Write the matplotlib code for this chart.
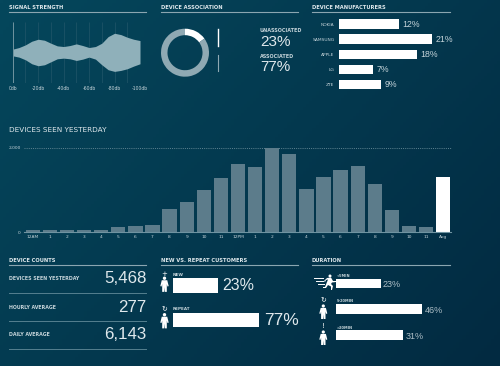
import matplotlib
matplotlib.use("Agg")
import matplotlib.pyplot as plt
import numpy as np
from matplotlib.patches import Circle, Polygon

W, H = 500, 366
FONT = "Liberation Sans"
WHITE = "#ffffff"
TEXT = "#dfe8ec"
RULE = "#8ba6b1"

signal_db = [0, 5, 10, 15, 20, 25, 30, 35, 40, 45, 50, 55, 60, 65, 70, 75, 80, 85, 90, 95, 100]
signal_upper = [10, 15, 23, 34, 40, 37, 28, 20, 18, 21, 26, 21, 15, 18, 28, 48, 58, 54, 46, 40, 36]
signal_lower = [10, 14, 22, 34, 40, 37, 28, 19, 17, 19, 24, 20, 14, 20, 37, 52, 57, 54, 49, 41, 34]
signal_ticks = [0, 20, 40, 60, 80, 100]
signal_labels = ["0db", "-20db", "-40db", "-60db", "-80db", "-100db"]

donut_shares = [15, 85]

makers = ["NOKIA", "SAMSUNG", "APPLE", "LG", "ZTE"]
maker_bars = [13.6, 21, 17.6, 7.7, 9.5]
maker_labels = ["12%", "21%", "18%", "7%", "9%"]

hours = ["12AM", "1", "2", "3", "4", "5", "6", "7", "8", "9", "10", "11",
         "12PM", "1", "2", "3", "4", "5", "6", "7", "8", "9", "10", "11", "Avg"]
hour_counts = [55, 55, 55, 55, 55, 118, 157, 165, 559, 724, 1008, 1291,
               1606, 1543, 2000, 1858, 1024, 1299, 1472, 1567, 1134, 528, 150, 118, 1299]

count_names = ["DEVICES SEEN YESTERDAY", "HOURLY AVERAGE", "DAILY AVERAGE"]
count_values = ["5,468", "277", "6,143"]

customer_bars = [23, 44.3]
customer_names = ["NEW", "REPEAT"]
customer_labels = ["23%", "77%"]

duration_bars = [23, 44.5, 34.7]
duration_names = ["<5MIN", "5-20MIN", ">20MIN"]
duration_labels = ["23%", "46%", "31%"]


def panel(fig, x0, y0, x1, y1):
    ax = fig.add_axes([x0 / W, 1 - y1 / H, (x1 - x0) / W, (y1 - y0) / H])
    ax.patch.set_alpha(0)
    for s in ax.spines.values():
        s.set_visible(False)
    ax.set_xticks([])
    ax.set_yticks([])
    return ax


def heading(ax, x0, x1, y, s):
    ax.text(x0, y - 4.5, s, fontsize=3.7, family="DejaVu Sans", weight="bold",
            color=TEXT, va="center", ha="left")
    ax.plot([x0, x1], [y, y], color=RULE, lw=0.8)


def small(ax, x, y, s, size=3.4, ha="left"):
    ax.text(x, y, s, fontsize=size, family="DejaVu Sans", weight="bold",
            color="#c4d3d9", va="center", ha=ha)


def big(ax, x, y, s, size, ha="left", color=TEXT):
    ax.text(x, y, s, fontsize=size, color=color, family=FONT, va="center", ha=ha)


def person(ax, x, y, s=1.0, color=WHITE):
    ax.add_patch(Circle((x, y - 5.5 * s), 1.6 * s, color=color, lw=0))
    body = [(-2.6, -3.6), (2.6, -3.6), (4, 2), (2.8, 2.4), (2.2, 0), (2.2, 7.5), (0.3, 7.5), (0, 3),
            (-0.3, 7.5), (-2.2, 7.5), (-2.2, 0), (-2.8, 2.4), (-4, 2)]
    ax.add_patch(Polygon([(x + a * s, y + b * s) for a, b in body], color=color, lw=0))


def runner(ax, x, y, color=WHITE):
    ax.add_patch(Circle((x + 3, y - 6), 1.5, color=color, lw=0))
    body = [(0, -4), (4, -4.5), (6, -1), (9, -1), (9, 0), (5, 0.5), (4, 2), (6, 4), (5, 8), (4, 8),
            (4, 4.5), (1, 3), (-1, 6), (-4, 6), (-4, 5), (-2, 5), (0, 0), (1, -2.5), (-1, -2), (-2, 0), (-3, -1)]
    ax.add_patch(Polygon([(x + a, y + b) for a, b in body], color=color, lw=0))
    for dy, x0, x1 in [(-4, -13, -4), (-1, -11, -4), (2, -9, -3)]:
        ax.plot([x + x0, x + x1], [y + dy, y + dy], color=color, lw=0.7)


fig = plt.figure(figsize=(W / 100, H / 100), dpi=100)

# background plus all loose text
bg = fig.add_axes([0, 0, 1, 1])
bg.set_xlim(0, W)
bg.set_ylim(H, 0)
bg.axis("off")
yy, xx = np.mgrid[0:1:120j, 0:1:160j]
t = 0.6 * xx + 0.4 * yy
c0, c1 = np.array([0x05, 0x47, 0x5c]) / 255, np.array([0x02, 0x2a, 0x41]) / 255
bg.imshow(c0 + (c1 - c0) * t[..., None], extent=(0, W, H, 0), aspect="auto", zorder=0)

for x0, x1, s in [(9, 146, "SIGNAL STRENGTH"), (161, 298, "DEVICE ASSOCIATION"), (312, 450, "DEVICE MANUFACTURERS")]:
    heading(bg, x0, x1, 12.3, s)
for x0, x1, s in [(9, 146, "DEVICE COUNTS"), (161, 298, "NEW VS. REPEAT CUSTOMERS"), (312, 450, "DURATION")]:
    heading(bg, x0, x1, 265, s)

# signal strength
ax = panel(fig, 12.7, 22, 140, 83)
ax.fill_between(signal_db, signal_upper, [-v for v in signal_lower], color="#8fb0ba", lw=0, zorder=2)
ax.vlines(np.arange(0, 101, 10), -92, 92, color="#215669", lw=0.5, zorder=1)
ax.vlines(0, -92, 92, color="#6f949f", lw=0.7, zorder=3)
ax.set_xlim(0, 100)
ax.set_ylim(-92, 92)
ax.set_xticks(signal_ticks, signal_labels, fontsize=3.3, color="#c4d3d9", family="DejaVu Sans")
ax.tick_params(axis="x", length=0, pad=2)

# donut
ax = panel(fig, 161, 28.7, 209, 76.7)
ax.pie(donut_shares, colors=[WHITE, "#8fa9b3"], startangle=90, counterclock=False,
       radius=1, wedgeprops={"width": 0.27, "linewidth": 0})
ax.set_xlim(-1, 1)
ax.set_ylim(-1, 1)
bg.plot([218.3, 218.3], [29, 46], color=WHITE, lw=1.0)
bg.plot([218.3, 218.3], [55, 71], color="#8fa9b3", lw=0.8)
small(bg, 260, 31, "UNASSOCIATED", 3.5)
small(bg, 260, 56, "ASSOCIATED", 3.5)
big(bg, 260, 42, "23%", 11)
big(bg, 260, 67, "77%", 11)

# manufacturers
ax = panel(fig, 338.7, 16.7, 450, 92)
ym = np.arange(len(makers))
ax.barh(ym, maker_bars, height=0.64, color=WHITE)
ax.set_xlim(0, 25.1)
ax.set_ylim(len(makers) - 0.5, -0.5)
ax.set_yticks(ym, makers, fontsize=3.2, color="#c4d3d9", family="DejaVu Sans")
ax.tick_params(axis="y", length=0, pad=3)
for yi, v, s in zip(ym, maker_bars, maker_labels):
    ax.annotate(s, (v, yi), xytext=(2.6, 0), textcoords="offset points", va="center",
                fontsize=6.3, color="#c4d3d9", family=FONT)

# devices seen yesterday
bg.text(9, 129.5, "DEVICES SEEN YESTERDAY", fontsize=5.2, color=TEXT, family="DejaVu Sans", va="center")
ax = panel(fig, 24, 147.7, 450.7, 232.3)
pos = np.arange(len(hours))
colors = ["#5c7c8b"] * (len(hours) - 1) + [WHITE]
ax.bar(pos, hour_counts, width=0.836, color=colors, lw=0)
ax.axhline(2000, color="#5f8492", lw=0.7, ls=(0, (1, 1.2)), zorder=0, clip_on=False)
ax.axhline(0, color="#6f93a1", lw=0.8, clip_on=False)
ax.set_xlim(-0.517, 24.44)
ax.set_ylim(0, 2000)
ax.set_xticks(pos, hours, fontsize=3.2, color="#c4d3d9", family="DejaVu Sans")
ax.set_yticks([0, 2000], ["0", "2,000"], fontsize=3.2, color="#c4d3d9", family="DejaVu Sans")
ax.tick_params(length=0, pad=2.2)

# device counts
for yc, name, val in zip([279, 307.5, 335], count_names, count_values):
    small(bg, 9, yc, name, 3.4)
    big(bg, 146.5, yc - 0.3, val, 12.2, ha="right")
for yl in [293.3, 321, 349.3]:
    bg.plot([9, 146], [yl, yl], color="#55808f", lw=0.7)

# new vs repeat
ax = panel(fig, 173, 278.3, 303, 327)
ax.barh([0, 1], customer_bars, height=0.42, color=WHITE)
ax.set_xlim(0, 67)
ax.set_ylim(1.21, -0.21)
big(bg, 222, 285.5, customer_labels[0], 11.5)
big(bg, 264.5, 320.5, customer_labels[1], 12.5)
small(bg, 173, 274.5, customer_names[0], 3)
small(bg, 173, 308.5, customer_names[1], 3)
person(bg, 164.5, 284, 1.05)
person(bg, 164.5, 320.5, 1.05)
bg.text(164.5, 274, "+", fontsize=5, color=WHITE, ha="center", va="center", family="DejaVu Sans")
bg.text(164.5, 309, "\u21bb", fontsize=5, color=WHITE, ha="center", va="center", family="DejaVu Sans")

# duration
ax = panel(fig, 336.3, 275.5, 450, 345.5)
ax.barh([0.15, 1.27, 2.4], duration_bars, height=0.43, color=WHITE)
ax.set_xlim(0, 58.8)
ax.set_ylim(2.85, -0.2)
for xe, yc, s in zip([383, 425, 406], [284.5, 310.3, 336.7], duration_labels):
    big(bg, xe, yc, s, 6.5, color="#aebfc7")
for yc, s in zip([275.7, 300.7, 327.7], duration_names):
    small(bg, 336.3, yc, s, 2.6)
runner(bg, 327, 282)
person(bg, 323.3, 311.5, 1.0)
person(bg, 323.3, 337.5, 1.0)
bg.text(323.3, 300, "\u21bb", fontsize=5, color=WHITE, ha="center", va="center", family="DejaVu Sans")
bg.text(323.3, 326.5, "!", fontsize=5, color=WHITE, ha="center", va="center", family="DejaVu Sans")

fig.savefig("out.png", dpi=100)
